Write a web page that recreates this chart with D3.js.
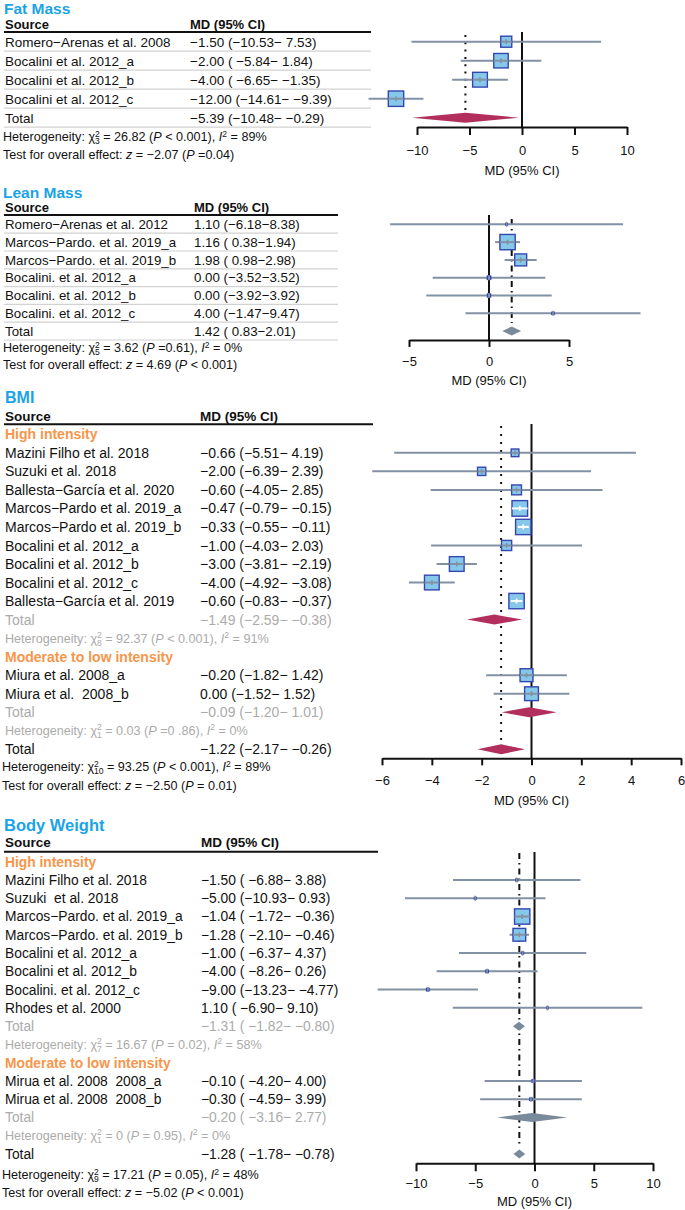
<!DOCTYPE html>
<html><head><meta charset="utf-8">
<script src="https://cdn.jsdelivr.net/npm/d3@7/dist/d3.min.js"></script>
<style>
body{margin:0;background:#fff}
svg text{font-family:"Liberation Sans",Arial,Helvetica,sans-serif;white-space:pre}
</style></head><body>
<svg id="c" width="685" height="1210"></svg>
<script>
// ================= DATA =================
// ---- Fat Mass ----
const fatLabels = ["Romero−Arenas et al. 2008","Bocalini et al. 2012_a","Bocalini et al. 2012_b","Bocalini et al. 2012_c"];
const fatMD = [-1.50,-2.00,-4.00,-12.00];
const fatLo = [-10.53,-5.84,-6.65,-14.61];
const fatHi = [7.53,1.84,-1.35,-9.39];
const fatWeight = [15.5,26.6,27.7,30.2];
const fatCI = ["−1.50 (−10.53− 7.53)","−2.00 ( −5.84− 1.84)","−4.00 ( −6.65− −1.35)","−12.00 (−14.61− −9.39)"];
const fatTotal = [-5.39,-10.48,-0.29];
const fatTotalCI = "−5.39 (−10.48− −0.29)";
const fatHet = ["3","26.82"," < 0.001","89"];
const fatTest = ["−2.07"," =0.04"];
const fatTicks = [-10,-5,0,5,10];

// ---- Lean Mass ----
const leanLabels = ["Romero−Arenas et al. 2012","Marcos−Pardo. et al. 2019_a","Marcos−Pardo. et al. 2019_b","Bocalini. et al. 2012_a","Bocalini. et al. 2012_b","Bocalini. et al. 2012_c"];
const leanMD = [1.10,1.16,1.98,0.00,0.00,4.00];
const leanLo = [-6.18,0.38,0.98,-3.52,-3.92,-1.47];
const leanHi = [8.38,1.94,2.98,3.52,3.92,9.47];
const leanWeight = [0.7,57.8,35.2,2.8,2.3,1.2];
const leanCI = ["1.10 (−6.18−8.38)","1.16 ( 0.38−1.94)","1.98 ( 0.98−2.98)","0.00 (−3.52−3.52)","0.00 (−3.92−3.92)","4.00 (−1.47−9.47)"];
const leanTotal = [1.42,0.83,2.01];
const leanTotalCI = "1.42 ( 0.83−2.01)";
const leanHet = ["5","3.62"," =0.61","0"];
const leanTest = ["4.69"," < 0.001"];
const leanTicks = [-5,0,5];

// ---- BMI ----
const bmiHighLabels = ["Mazini Filho et al. 2018","Suzuki et al. 2018","Ballesta−García et al. 2020","Marcos−Pardo et al. 2019_a","Marcos−Pardo et al. 2019_b","Bocalini et al. 2012_a","Bocalini et al. 2012_b","Bocalini et al. 2012_c","Ballesta−García et al. 2019"];
const bmiHighMD = [-0.66,-2.00,-0.60,-0.47,-0.33,-1.00,-3.00,-4.00,-0.60];
const bmiHighLo = [-5.51,-6.39,-4.05,-0.79,-0.55,-4.03,-3.81,-4.92,-0.83];
const bmiHighHi = [4.19,2.39,2.85,-0.15,-0.11,2.03,-2.19,-3.08,-0.37];
const bmiHighWeight = [3.2,3.7,5.3,13.3,12.9,5.6,11.8,11.8,12.9];
const bmiHighCI = ["−0.66 (−5.51− 4.19)","−2.00 (−6.39− 2.39)","−0.60 (−4.05− 2.85)","−0.47 (−0.79− −0.15)","−0.33 (−0.55− −0.11)","−1.00 (−4.03− 2.03)","−3.00 (−3.81− −2.19)","−4.00 (−4.92− −3.08)","−0.60 (−0.83− −0.37)"];
const bmiHighTotal = [-1.49,-2.59,-0.38];
const bmiHighTotalCI = "−1.49 (−2.59− −0.38)";
const bmiHighHet = ["8","92.37"," < 0.001","91"];
const bmiModLabels = ["Miura et al. 2008_a","Miura et al.  2008_b"];
const bmiModMD = [-0.20,0.00];
const bmiModLo = [-1.82,-1.52];
const bmiModHi = [1.42,1.52];
const bmiModWeight = [9.1,10.4];
const bmiModCI = ["−0.20 (−1.82− 1.42)","0.00 (−1.52− 1.52)"];
const bmiModTotal = [-0.09,-1.20,1.01];
const bmiModTotalCI = "−0.09 (−1.20− 1.01)";
const bmiModHet = ["1","0.03"," =0 .86","0"];
const bmiTotal = [-1.22,-2.17,-0.26];
const bmiTotalCI = "−1.22 (−2.17− −0.26)";
const bmiHet = ["10","93.25"," < 0.001","89"];
const bmiTest = ["−2.50"," = 0.01"];
const bmiTicks = [-6,-4,-2,0,2,4,6];

// ---- Body Weight ----
const bwHighLabels = ["Mazini Filho et al. 2018","Suzuki  et al. 2018","Marcos−Pardo. et al. 2019_a","Marcos−Pardo. et al. 2019_b","Bocalini et al. 2012_a","Bocalini et al. 2012_b","Bocalini. et al. 2012_c","Rhodes et al. 2000"];
const bwHighMD = [-1.50,-5.00,-1.04,-1.28,-1.00,-4.00,-9.00,1.10];
const bwHighLo = [-6.88,-10.93,-1.72,-2.10,-6.37,-8.26,-13.23,-6.90];
const bwHighHi = [3.88,0.93,-0.36,-0.46,4.37,0.26,-4.77,9.10];
const bwHighWeight = [0.87,0.71,54.2,37.4,0.87,1.39,1.40,0.39];
const bwHighCI = ["−1.50 ( −6.88− 3.88)","−5.00 (−10.93− 0.93)","−1.04 ( −1.72− −0.36)","−1.28 ( −2.10− −0.46)","−1.00 ( −6.37− 4.37)","−4.00 ( −8.26− 0.26)","−9.00 (−13.23− −4.77)","1.10 ( −6.90− 9.10)"];
const bwHighTotal = [-1.31,-1.82,-0.80];
const bwHighTotalCI = "−1.31 ( −1.82− −0.80)";
const bwHighHet = ["7","16.67"," = 0.02","58"];
const bwModLabels = ["Mirua et al. 2008  2008_a","Mirua et al. 2008  2008_b"];
const bwModMD = [-0.10,-0.30];
const bwModLo = [-4.20,-4.59];
const bwModHi = [4.00,3.99];
const bwModWeight = [1.5,1.36];
const bwModCI = ["−0.10 ( −4.20− 4.00)","−0.30 ( −4.59− 3.99)"];
const bwModTotal = [-0.20,-3.16,2.77];
const bwModTotalCI = "−0.20 ( −3.16− 2.77)";
const bwModHet = ["1","0"," = 0.95","0"];
const bwTotal = [-1.28,-1.78,-0.78];
const bwTotalCI = "−1.28 ( −1.78− −0.78)";
const bwHet = ["9","17.21"," = 0.05","48"];
const bwTest = ["−5.02"," < 0.001"];
const bwTicks = [-10,-5,0,5,10];

// ================= DRAWING =================
const BLUE="#1ba3e8", ORANGE="#f7964a", GRAYTXT="#ababab", CICOL="#8292a4",
      BOXFILL="#86c8ea", BOXSTROKE="#3646b0", MAROON="#b22f5d", SLATE="#7a8a9b", SEPCOL="#d2d2d2";
const svg = d3.select("#c");

function studies(labels, md, lo, hi, w, ci){
  return labels.map((l,i)=>({type:"study",label:l,est:md[i],lo:lo[i],hi:hi[i],w:w[i],ci:ci[i]}));
}
function summary(type, v, ci){ return {type, est:v[0], lo:v[1], hi:v[2], ci}; }

function hetText(g, x, yc, fs, color, h){
  const t = g.append("text").attr("x",x).attr("y",yc+fs*0.35).attr("font-size",fs).attr("fill",color);
  const small = fs*0.68;
  t.append("tspan").text("Heterogeneity: χ");
  t.append("tspan").attr("font-size",small).attr("dy",-fs*0.38).text("2");
  t.append("tspan").attr("font-size",small).attr("dx",-small*0.56).attr("dy",fs*0.62).text(h[0]);
  t.append("tspan").attr("dy",-fs*0.24).text(" = "+h[1]+" (");
  t.append("tspan").attr("font-style","italic").text("P");
  t.append("tspan").text(h[2]+"), ");
  t.append("tspan").attr("font-style","italic").text("I");
  t.append("tspan").attr("font-size",small).attr("dy",-fs*0.38).text("2");
  t.append("tspan").attr("dy",fs*0.38).text(" = "+h[3]+"%");
}
function testText(g, x, yc, fs, tt){
  const t = g.append("text").attr("x",x).attr("y",yc+fs*0.35).attr("font-size",fs).attr("fill","#111");
  t.append("tspan").text("Test for overall effect: ");
  t.append("tspan").attr("font-style","italic").text("z");
  t.append("tspan").text(" = "+tt[0]+" (");
  t.append("tspan").attr("font-style","italic").text("P");
  t.append("tspan").text(tt[1]+")");
}

function drawPanel(c){
  const g = svg.append("g");
  const x = d3.scaleLinear().domain(c.domain).range(c.range);
  c.rows.forEach((r,i)=>{ r.y = c.rowStart + i*c.rowStep; });
  const st = c.rows.filter(r=>r.type==="study");
  const size = d3.scaleSqrt().domain([0,d3.max(st,d=>d.w)]).range([0,c.maxBox]);
  const fs = c.fs;

  // title & header
  g.append("text").attr("x",c.titleX).attr("y",c.titleY).attr("dy","0.36em")
    .attr("font-size",c.titleSize).attr("font-weight","bold").attr("fill",BLUE).text(c.title);
  g.append("text").attr("x",5).attr("y",c.headerY).attr("dy","0.36em")
    .attr("font-size",c.headFs).attr("font-weight","bold").attr("fill","#111").text("Source");
  g.append("text").attr("x",c.ciX).attr("y",c.headerY).attr("dy","0.36em")
    .attr("font-size",c.headFs).attr("font-weight","bold").attr("fill","#111").text("MD (95% CI)");
  g.append("line").attr("x1",4).attr("x2",c.ulX2).attr("y1",c.ulY).attr("y2",c.ulY)
    .attr("stroke","#111").attr("stroke-width",2);

  if(c.separators){
    g.selectAll("line.sep").data(c.rows.filter(r=>r.type==="study"||r.type==="total")).join("line")
      .attr("class","sep").attr("x1",4).attr("x2",c.ulX2)
      .attr("y1",r=>r.y+c.rowStep/2).attr("y2",r=>r.y+c.rowStep/2)
      .attr("stroke",SEPCOL).attr("stroke-width",1.2);
  }

  // text rows
  c.rows.forEach(r=>{
    if(r.type==="group"){
      g.append("text").attr("x",5).attr("y",r.y).attr("dy","0.36em").attr("font-size",fs)
        .attr("font-weight","bold").attr("fill",ORANGE).text(r.label);
    } else if(r.type==="subhet"){
      hetText(g,5,r.y,c.hetFs,GRAYTXT,r.het);
    } else {
      const col = r.type==="subtotal" ? GRAYTXT : "#111";
      g.append("text").attr("x",5).attr("y",r.y).attr("dy","0.36em").attr("font-size",fs)
        .attr("fill",col).text(r.type==="study"? r.label : "Total");
      g.append("text").attr("x",c.ciX).attr("y",r.y).attr("dy","0.36em").attr("font-size",fs)
        .attr("fill",col).text(r.ci);
    }
  });
  hetText(g,c.hetX,c.hetY,c.hetFs,"#111",c.het);
  testText(g,c.hetX,c.testY,c.hetFs,c.test);

  // reference lines
  const overall = c.rows.filter(r=>r.type==="total")[0];
  g.append("line").attr("x1",x(0)).attr("x2",x(0)).attr("y1",c.zeroTop).attr("y2",c.axisY)
    .attr("stroke","#111").attr("stroke-width",2);
  g.append("line").attr("x1",x(overall.est)).attr("x2",x(overall.est))
    .attr("y1",c.sumTop).attr("y2",c.sumBottom)
    .attr("stroke","#111").attr("stroke-width",2).attr("stroke-dasharray",c.dash);

  // studies
  st.forEach(d=>{
    const s = Math.max(size(d.w),1.5);
    const cx = x(d.est);
    const vis = s+1.4;
    const ciPx = x(d.hi)-x(d.lo);
    const lcol = ciPx < vis*0.95 ? "#ffffff" : CICOL;
    if(lcol!=="#ffffff"){
      g.append("line").attr("x1",x(d.lo)).attr("x2",x(d.hi)).attr("y1",d.y).attr("y2",d.y)
        .attr("stroke",CICOL).attr("stroke-width",2);
    }
    g.append("rect").attr("x",cx-s/2).attr("y",d.y-s/2).attr("width",s).attr("height",s)
      .attr("fill",BOXFILL).attr("stroke",BOXSTROKE).attr("stroke-width",1.4);
    if(s>4){
      g.append("line").attr("x1",Math.max(x(d.lo),cx-s/2)).attr("x2",Math.min(x(d.hi),cx+s/2))
        .attr("y1",d.y).attr("y2",d.y).attr("stroke",lcol).attr("stroke-width",2);
    }
    g.append("line").attr("x1",cx).attr("x2",cx).attr("y1",d.y-2.5).attr("y2",d.y+2.5)
      .attr("stroke",lcol).attr("stroke-width",1.6);
  });

  // diamonds
  c.rows.filter(r=>r.type==="subtotal"||r.type==="total").forEach(d=>{
    const h = c.diamondH/2;
    g.append("polygon")
      .attr("points",[[x(d.lo),d.y],[x(d.est),d.y-h],[x(d.hi),d.y],[x(d.est),d.y+h]].map(p=>p.join(",")).join(" "))
      .attr("fill",c.diamondColor);
  });

  // axis
  const ax = g.append("g").attr("transform",`translate(0,${c.axisY})`)
    .call(d3.axisBottom(x).tickValues(c.ticks).tickSize(c.tickLen).tickSizeOuter(0).tickFormat(d3.format("d")));
  ax.select(".domain").attr("stroke","#111").attr("stroke-width",2);
  ax.selectAll(".tick line").attr("stroke","#111").attr("stroke-width",2);
  ax.selectAll(".tick text").attr("y",c.labelY-c.axisY).attr("dy","0.36em")
    .attr("font-size",13).attr("fill","#111").attr("font-family","'Liberation Sans',Arial,sans-serif");
  g.append("text").attr("x",(c.range[0]+c.range[1])/2).attr("y",c.axisTitleY).attr("dy","0.36em")
    .attr("text-anchor","middle").attr("font-size",13).attr("fill","#111").text("MD (95% CI)");
}

// ---- Fat Mass panel ----
drawPanel({
  title:"Fat Mass", titleX:4, titleY:8, titleSize:15.5, headerY:24.5, headFs:13, ulY:32, ulX2:371,
  rows:[...studies(fatLabels,fatMD,fatLo,fatHi,fatWeight,fatCI), summary("total",fatTotal,fatTotalCI)],
  rowStart:41.7, rowStep:19, separators:true, fs:13.5, ciX:190,
  domain:[-10,10], range:[417,627], ticks:fatTicks, axisY:127, tickLen:8, labelY:150, axisTitleY:170,
  zeroTop:32, sumTop:35, sumBottom:110, dash:"2,5.3", diamondColor:MAROON, diamondH:10, maxBox:15.4,
  hetX:3, hetY:137, testY:155, hetFs:12.6, het:fatHet, test:fatTest
});

// ---- Lean Mass panel ----
drawPanel({
  title:"Lean Mass", titleX:3, titleY:192.5, titleSize:15.5, headerY:207.5, headFs:13, ulY:215, ulX2:338,
  rows:[...studies(leanLabels,leanMD,leanLo,leanHi,leanWeight,leanCI), summary("total",leanTotal,leanTotalCI)],
  rowStart:224.3, rowStep:17.8, separators:true, fs:13.3, ciX:194,
  domain:[-5,5], range:[409,569], ticks:leanTicks, axisY:340, tickLen:7, labelY:361, axisTitleY:380,
  zeroTop:215, sumTop:219, sumBottom:323, dash:"6,4,1.5,4", diamondColor:SLATE, diamondH:9, maxBox:15.3,
  hetX:3, hetY:348, testY:365, hetFs:12.6, het:leanHet, test:leanTest
});

// ---- BMI panel ----
drawPanel({
  title:"BMI", titleX:5, titleY:397.7, titleSize:16, headerY:416, headFs:13.5, ulY:424.3, ulX2:373,
  rows:[{type:"group",label:"High intensity"},
        ...studies(bmiHighLabels,bmiHighMD,bmiHighLo,bmiHighHi,bmiHighWeight,bmiHighCI),
        summary("subtotal",bmiHighTotal,bmiHighTotalCI), {type:"subhet",het:bmiHighHet},
        {type:"group",label:"Moderate to low intensity"},
        ...studies(bmiModLabels,bmiModMD,bmiModLo,bmiModHi,bmiModWeight,bmiModCI),
        summary("subtotal",bmiModTotal,bmiModTotalCI), {type:"subhet",het:bmiModHet},
        summary("total",bmiTotal,bmiTotalCI)],
  rowStart:434.3, rowStep:18.53, separators:false, fs:14, ciX:200,
  domain:[-6,6], range:[382,681], ticks:bmiTicks, axisY:758.3, tickLen:7, labelY:780, axisTitleY:800,
  zeroTop:424, sumTop:426, sumBottom:742, dash:"2,6", diamondColor:MAROON, diamondH:10, maxBox:15.6,
  hetX:2, hetY:767, testY:786, hetFs:12.6, het:bmiHet, test:bmiTest
});

// ---- Body Weight panel ----
drawPanel({
  title:"Body Weight", titleX:4, titleY:825, titleSize:16.5, headerY:842.3, headFs:13.5, ulY:851.7, ulX2:378,
  rows:[{type:"group",label:"High intensity"},
        ...studies(bwHighLabels,bwHighMD,bwHighLo,bwHighHi,bwHighWeight,bwHighCI),
        summary("subtotal",bwHighTotal,bwHighTotalCI), {type:"subhet",het:bwHighHet},
        {type:"group",label:"Moderate to low intensity"},
        ...studies(bwModLabels,bwModMD,bwModLo,bwModHi,bwModWeight,bwModCI),
        summary("subtotal",bwModTotal,bwModTotalCI), {type:"subhet",het:bwModHet},
        summary("total",bwTotal,bwTotalCI)],
  rowStart:861.7, rowStep:18.27, separators:false, fs:13.8, ciX:201,
  domain:[-10,10], range:[416,653], ticks:bwTicks, axisY:1163.3, tickLen:8, labelY:1183, axisTitleY:1201,
  zeroTop:852, sumTop:853, sumBottom:1147, dash:"6,4,1.5,4", diamondColor:SLATE, diamondH:9, maxBox:15.3,
  hetX:2, hetY:1175, testY:1193, hetFs:12.6, het:bwHet, test:bwTest
});
</script>
</body></html>
